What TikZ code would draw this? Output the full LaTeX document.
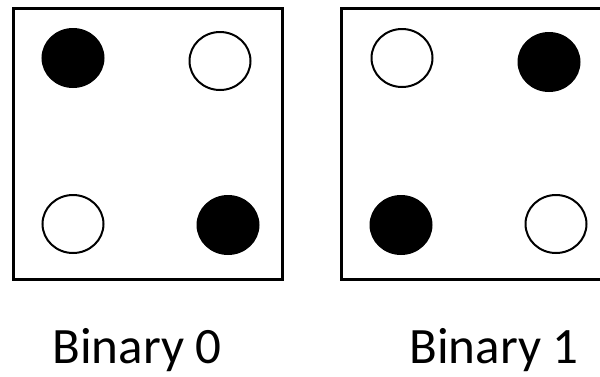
\documentclass[tikz,border=0pt]{standalone}
\usepackage{fontspec}
\setmainfont{Carlito}
\usetikzlibrary{positioning,shapes.geometric}

\begin{document}
\begin{tikzpicture}[
    x=1pt, y=-1pt,
    frame/.style={draw, line width=3pt},
    dot/.style={ellipse, draw, line width=2pt, minimum width=61pt, minimum height=58pt, inner sep=0pt},
    full/.style={dot, fill=black},
    hollow/.style={dot, fill=white},
    caption/.style={font=\fontsize{51}{60}\selectfont, inner sep=0pt, anchor=base}
]
    \useasboundingbox (0,0) rectangle (600,376);
    \clip (0,0) rectangle (600,376);
    \draw[frame] (13,8) rectangle (282,279);
    \draw[frame] (341,8) rectangle (620,279);

    % binary 0
    \node[full] (a1) at (73,58) {};
    \node[hollow] (a2) at (220,61) {};
    \node[hollow] (a3) at (73,224) {};
    \node[full] (a4) at (228,225) {};
    % binary 1
    \node[hollow] (b1) at (402,58) {};
    \node[full] (b2) at (549,62) {};
    \node[full] (b3) at (401,225) {};
    \node[hollow] (b4) at (556,224) {};

    \node[caption] (zero) at (137,363) {Binary 0};
    \node[caption] (one) at (494,363) {Binary 1};
\end{tikzpicture}
\end{document}
